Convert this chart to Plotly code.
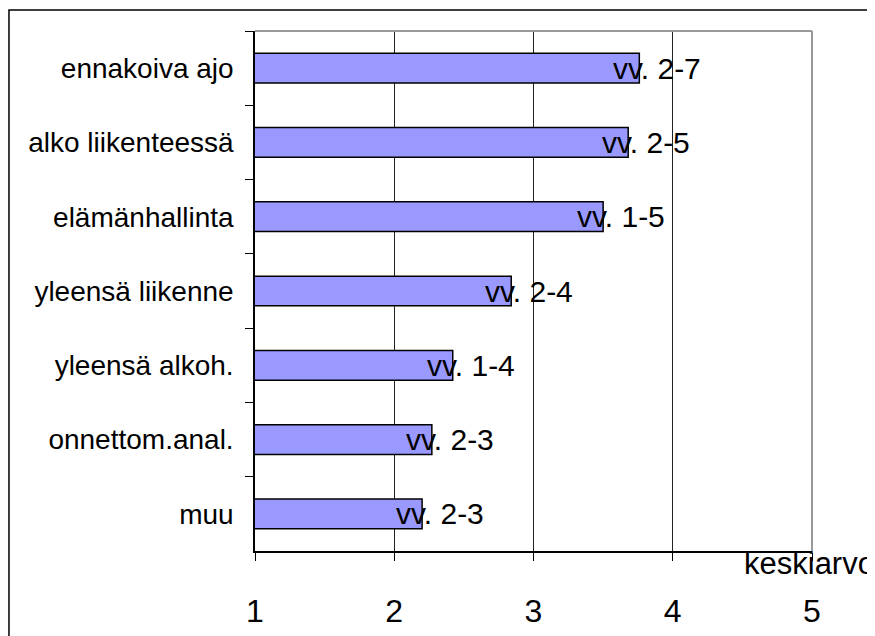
import plotly.graph_objects as go

categories = ["ennakoiva ajo", "alko liikenteessä", "elämänhallinta", "yleensä liikenne",
              "yleensä alkoh.", "onnettom.anal.", "muu"]
values = [3.76, 3.68, 3.50, 2.84, 2.42, 2.27, 2.20]
bar_labels = ["vv. 2-7", "vv. 2-5", "vv. 1-5", "vv. 2-4", "vv. 1-4", "vv. 2-3", "vv. 2-3"]
x_ticks = [1, 2, 3, 4, 5]
x_title = "keskiarvo"

FONT = "Liberation Sans, Arial, sans-serif"

fig = go.Figure()
fig.add_trace(go.Bar(
    y=categories, x=values, orientation="h",
    marker=dict(color="#9999FF", line=dict(color="black", width=1.5)),
    hoverinfo="x+y",
))

for c, v, t in zip(categories, values, bar_labels):
    fig.add_annotation(x=v, y=c, xref="x", yref="y", text=t, showarrow=False,
                       xanchor="left", yanchor="middle", xshift=-28,
                       font=dict(family=FONT, size=30, color="black"))

fig.add_annotation(x=0.874, y=-0.024, xref="paper", yref="paper", text=x_title,
                   showarrow=False, xanchor="left", yanchor="middle",
                   font=dict(family=FONT, size=31, color="black"))

# plot-area border (gray top and right)
fig.add_shape(type="line", xref="paper", yref="paper", x0=0, x1=1, y0=1, y1=1,
              line=dict(color="#999999", width=2))
fig.add_shape(type="line", xref="paper", yref="paper", x0=1, x1=1, y0=0, y1=1,
              line=dict(color="#999999", width=2))
# outer chart frame
fig.add_shape(type="rect", xref="paper", yref="paper", x0=-0.4417, x1=1.3, y0=-0.4, y1=1.0404,
              line=dict(color="black", width=1.5), layer="below")

fig.update_layout(
    width=875, height=636,
    margin=dict(l=247, r=71, t=23, b=93),
    paper_bgcolor="white", plot_bgcolor="white",
    bargap=0.6, showlegend=False,
    font=dict(family=FONT, color="black"),
)
fig.update_xaxes(
    range=[1, 5], tickvals=x_ticks, ticktext=[str(t) for t in x_ticks],
    showgrid=True, gridcolor="#222222", gridwidth=1,
    showline=True, linecolor="black", linewidth=1.5,
    ticks="outside", ticklen=8, tickcolor="black",
    tickfont=dict(family=FONT, size=32, color="black"),
    ticklabelstandoff=23, zeroline=False, fixedrange=True, automargin=False,
)
fig.update_yaxes(
    categoryorder="array", categoryarray=categories, autorange="reversed",
    showline=True, linecolor="black", linewidth=1.5,
    ticks="outside", ticklen=8, tickcolor="black", tickson="boundaries",
    tickfont=dict(family=FONT, size=28, color="black"),
    ticklabelstandoff=14, showgrid=False, fixedrange=True, automargin=False,
)

fig.write_html("out.html")
